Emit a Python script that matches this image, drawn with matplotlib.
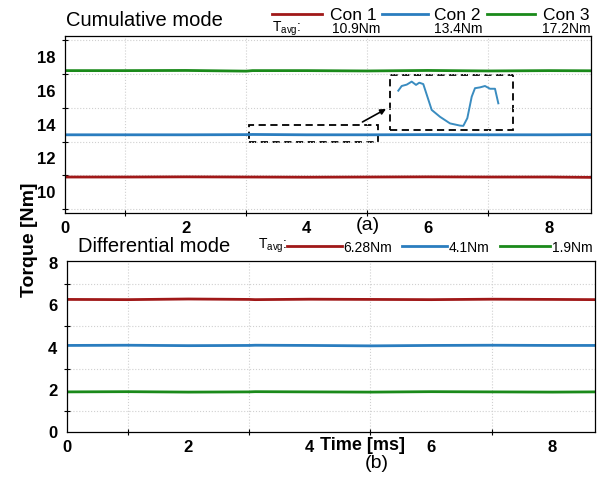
import matplotlib.pyplot as plt
from matplotlib.lines import Line2D
from matplotlib.patches import Rectangle

plt.rcParams['font.family'] = ['Liberation Sans', 'DejaVu Sans']
plt.rcParams['mathtext.fontset'] = 'custom'
plt.rcParams['mathtext.rm'] = 'Liberation Sans'

# datos
t = [0.0, 1.0, 2.0, 3.0, 3.1, 4.0, 5.0, 6.0, 7.0, 8.0, 8.7]
cum_con1 = [10.90, 10.90, 10.91, 10.90, 10.90, 10.89, 10.90, 10.91, 10.90, 10.90, 10.88]
cum_con2 = [13.40, 13.40, 13.40, 13.41, 13.42, 13.40, 13.40, 13.41, 13.40, 13.40, 13.41]
cum_con3 = [17.20, 17.20, 17.21, 17.17, 17.20, 17.20, 17.18, 17.21, 17.18, 17.20, 17.19]
dif_con1 = [6.28, 6.27, 6.30, 6.28, 6.27, 6.29, 6.28, 6.27, 6.29, 6.28, 6.27]
dif_con2 = [4.10, 4.11, 4.09, 4.10, 4.11, 4.10, 4.08, 4.10, 4.11, 4.10, 4.10]
dif_con3 = [1.90, 1.91, 1.89, 1.90, 1.91, 1.90, 1.89, 1.91, 1.90, 1.89, 1.90]

# detalle ampliado de Con 2 (recuadro)
zoom_t = [3.209, 3.267, 3.353, 3.438, 3.512, 3.568, 3.636, 3.780, 3.922, 4.093,
          4.264, 4.320, 4.389, 4.464, 4.520, 4.606, 4.691, 4.777, 4.862, 4.919]
zoom_v = [13.443, 13.460, 13.465, 13.476, 13.464, 13.472, 13.467, 13.373, 13.348, 13.324,
          13.316, 13.315, 13.343, 13.421, 13.452, 13.455, 13.460, 13.450, 13.450, 13.397]

cum_avg = ['10.9Nm', '13.4Nm', '17.2Nm']
dif_avg = ['6.28Nm', '4.1Nm', '1.9Nm']
nombres = ['Con 1', 'Con 2', 'Con 3']
colores = ['#A01818', '#2A7DBF', '#1A8A1A']

W, H = 608, 479
fig = plt.figure(figsize=(W / 100, H / 100), dpi=100)


def fx(px):
    return px / W


def fy(py):
    return 1 - py / H


ax1 = fig.add_axes([fx(65), fy(213), fx(526), 177 / H])
ax2 = fig.add_axes([fx(67), fy(432), fx(528), 171 / H])


def estilo(ax, ylo, yhi, yodd, yeven):
    ax.set_xlim(0, 8.7)
    ax.set_ylim(ylo, yhi)
    ax.set_xticks([1, 3, 5, 7])
    ax.set_xticks([0, 2, 4, 6, 8], minor=True)
    ax.set_yticks(yodd)
    ax.set_yticks(yeven, minor=True)
    ax.set_xticklabels([])
    ax.set_yticklabels([])
    ax.set_xticklabels(['0', '2', '4', '6', '8'], minor=True)
    ax.set_yticklabels([str(v) for v in yeven], minor=True)
    ax.tick_params(which='major', direction='inout', length=5, width=0.8)
    ax.tick_params(which='minor', length=0, labelsize=12)
    ax.tick_params(axis='x', which='minor', pad=6)
    ax.tick_params(axis='y', which='minor', pad=7)
    for lab in ax.get_xticklabels(minor=True) + ax.get_yticklabels(minor=True):
        lab.set_fontweight('bold')
    ax.grid(which='major', color='#D0D0D0', linestyle=':', linewidth=0.8)
    for s in ax.spines.values():
        s.set_linewidth(0.9)


estilo(ax1, 8.77, 19.25, [9, 11, 13, 15, 17, 19], [10, 12, 14, 16, 18])
estilo(ax2, 0, 8.1, [1, 3, 5, 7], [0, 2, 4, 6, 8])

for serie, c in zip([cum_con1, cum_con2, cum_con3], colores):
    ax1.plot(t, serie, color=c, lw=2)
for serie, c in zip([dif_con1, dif_con2, dif_con3], colores):
    ax2.plot(t, serie, color=c, lw=2)

# recuadros del detalle
ax1.add_patch(Rectangle((3.05, 12.98), 2.12, 1.01, fill=False, ls=(0, (4, 2.5)), lw=1.3, color='k'))
ax1.add_patch(Rectangle((5.37, 13.69), 2.04, 3.26, fill=False, ls=(0, (4, 2.5)), lw=1.3, color='k'))
ax1.annotate('', xy=(5.31, 14.93), xytext=(4.92, 14.16),
             arrowprops=dict(arrowstyle='-|>', color='k', lw=1.2, mutation_scale=8,
                             shrinkA=0, shrinkB=0))

axz = fig.add_axes([fx(389), fy(130), fx(124), 55 / H])
axz.plot(zoom_t, zoom_v, color='#3A8CC0', lw=1.4)
axz.set_xlim(3.05, 5.17)
axz.set_ylim(13.30, 13.50)
axz.axis('off')

# leyendas superiores
fig.text(fx(66), fy(21), 'Cumulative mode', fontsize=14.5, va='center', ha='left')
seg_top = [(272, 322), (382, 428), (487, 535)]
nom_x = [353, 457, 566]
val_x = [356, 458, 566]
for i in range(3):
    fig.add_artist(Line2D([fx(seg_top[i][0]), fx(seg_top[i][1])], [fy(14), fy(14)],
                          color=colores[i], lw=2, transform=fig.transFigure))
    fig.text(fx(nom_x[i]), fy(16), nombres[i], fontsize=12.5, ha='center', va='center')
    fig.text(fx(val_x[i]), fy(29), cum_avg[i], fontsize=10, ha='center', va='center')
fig.text(fx(272), fy(29), r'T$_{\mathrm{avg}}$:', fontsize=10, ha='left', va='center')

fig.text(fx(78), fy(246), 'Differential mode', fontsize=14.5, va='center', ha='left')
fig.text(fx(258), fy(246), r'T$_{\mathrm{avg}}$:', fontsize=10, ha='left', va='center')
seg_bot = [(287, 342), (402, 447), (500, 550)]
val_bot = [343, 449, 552]
for i in range(3):
    fig.add_artist(Line2D([fx(seg_bot[i][0]), fx(seg_bot[i][1])], [fy(246), fy(246)],
                          color=colores[i], lw=2, transform=fig.transFigure))
    fig.text(fx(val_bot[i]), fy(248), dif_avg[i], fontsize=10, ha='left', va='center')

fig.text(fx(368), fy(226), '(a)', fontsize=14, ha='center', va='center')
fig.text(fx(363), fy(446), 'Time [ms]', fontsize=13, fontweight='bold', ha='center', va='center')
fig.text(fx(377), fy(463), '(b)', fontsize=14, ha='center', va='center')
fig.text(fx(30), fy(240), 'Torque [Nm]', fontsize=14, fontweight='bold', rotation=90,
         ha='center', va='center')

fig.savefig('out.png', dpi=100)
